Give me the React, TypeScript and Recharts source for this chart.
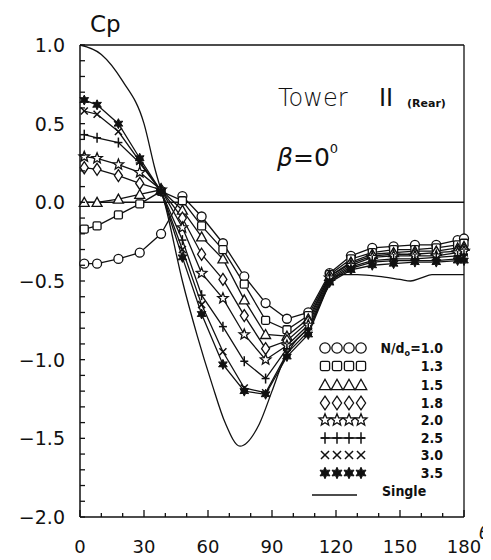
import { LineChart, Line, XAxis, YAxis, ReferenceLine } from 'recharts'

// tap angles (deg) shared by the eight N/d series
const THETA = [2, 8, 18, 28, 38, 48, 57, 67, 77, 87, 97, 107, 117, 127, 137, 147, 157, 167, 177, 180]

const CP_N10 = [-0.39, -0.39, -0.36, -0.32, -0.2, 0.04, -0.09, -0.26, -0.47, -0.64, -0.74, -0.7, -0.45, -0.34, -0.29, -0.28, -0.27, -0.27, -0.24, -0.23]
const CP_N13 = [-0.17, -0.15, -0.08, -0.01, 0.07, 0.01, -0.15, -0.3, -0.52, -0.75, -0.81, -0.72, -0.46, -0.36, -0.32, -0.3, -0.3, -0.29, -0.27, -0.26]
const CP_N15 = [0.0, 0.0, 0.02, 0.05, 0.08, -0.05, -0.22, -0.36, -0.62, -0.84, -0.85, -0.74, -0.47, -0.38, -0.33, -0.32, -0.31, -0.31, -0.29, -0.28]
const CP_N18 = [0.22, 0.21, 0.17, 0.12, 0.08, -0.1, -0.33, -0.49, -0.72, -0.93, -0.88, -0.76, -0.47, -0.39, -0.34, -0.33, -0.33, -0.32, -0.31, -0.3]
const CP_N20 = [0.29, 0.28, 0.24, 0.19, 0.08, -0.16, -0.45, -0.61, -0.84, -1.0, -0.91, -0.78, -0.48, -0.4, -0.35, -0.34, -0.34, -0.34, -0.32, -0.31]
const CP_N25 = [0.43, 0.41, 0.38, 0.25, 0.07, -0.24, -0.59, -0.79, -1.01, -1.12, -0.93, -0.8, -0.49, -0.41, -0.37, -0.36, -0.36, -0.35, -0.34, -0.33]
const CP_N30 = [0.58, 0.56, 0.45, 0.26, 0.07, -0.3, -0.65, -0.95, -1.18, -1.21, -0.96, -0.82, -0.5, -0.42, -0.38, -0.37, -0.37, -0.37, -0.36, -0.35]
const CP_N35 = [0.65, 0.62, 0.5, 0.28, 0.07, -0.35, -0.71, -1.03, -1.2, -1.22, -0.98, -0.84, -0.51, -0.43, -0.4, -0.39, -0.38, -0.38, -0.37, -0.37]

// single tower curve
const SINGLE_THETA = [0, 10, 20, 30, 35, 40, 48, 55, 62, 68, 75, 84, 90, 95, 100, 108, 116, 122, 130, 140, 150, 155, 160, 165, 172, 180]
const SINGLE_CP = [1.0, 0.94, 0.77, 0.5, 0.22, -0.02, -0.5, -0.85, -1.16, -1.4, -1.55, -1.41, -1.2, -1.02, -0.9, -0.78, -0.55, -0.46, -0.46, -0.47, -0.49, -0.5, -0.48, -0.46, -0.46, -0.46]

const SERIES_LABELS = ['1.0', '1.3', '1.5', '1.8', '2.0', '2.5', '3.0', '3.5']
const SERIES_SHAPES = ['circle', 'square', 'triangle', 'diamond', 'star', 'plus', 'cross', 'asterisk']
const SERIES_VALUES = [CP_N10, CP_N13, CP_N15, CP_N18, CP_N20, CP_N25, CP_N30, CP_N35]

const X_LABELS = [0, 30, 60, 90, 120, 150, 180]
const Y_LABELS = [-2.0, -1.5, -1.0, -0.5, 0.0, 0.5, 1.0]

const X_TICKS = Array.from({ length: 19 }, (_, i) => i * 10)
const Y_TICKS = Array.from({ length: 31 }, (_, i) => Math.round(-20 + i) / 10)

const W = 483
const H = 552
const FONT = "'DejaVu Sans', sans-serif"
const COND = "'DejaVu Sans Condensed', 'DejaVu Sans', sans-serif"
const INK = '#111'

type Shape = (typeof SERIES_SHAPES)[number]

function starPoints(cx: number, cy: number, outer: number, inner: number, n: number) {
  const pts: string[] = []
  for (let i = 0; i < n * 2; i++) {
    const r = i % 2 === 0 ? outer : inner
    const a = -Math.PI / 2 + (i * Math.PI) / n
    pts.push(`${cx + r * Math.cos(a)},${cy + r * Math.sin(a)}`)
  }
  return pts.join(' ')
}

function Marker({ shape, cx, cy, s = 1 }: { shape: Shape; cx: number; cy: number; s?: number }) {
  const common = { stroke: INK, strokeWidth: 1.3, fill: '#fff' }
  switch (shape) {
    case 'circle':
      return <circle cx={cx} cy={cy} r={4.5 * s} {...common} />
    case 'square':
      return <rect x={cx - 4 * s} y={cy - 4 * s} width={8 * s} height={8 * s} rx={1.5} {...common} />
    case 'triangle':
      return <polygon points={`${cx},${cy - 5 * s} ${cx - 5 * s},${cy + 4 * s} ${cx + 5 * s},${cy + 4 * s}`} {...common} />
    case 'diamond':
      return <polygon points={`${cx},${cy - 6 * s} ${cx + 4 * s},${cy} ${cx},${cy + 6 * s} ${cx - 4 * s},${cy}`} {...common} />
    case 'star':
      return <polygon points={starPoints(cx, cy, 5.5 * s, 2.4 * s, 5)} {...common} />
    case 'plus':
      return (
        <g stroke={INK} strokeWidth={1.5}>
          <line x1={cx} y1={cy - 5 * s} x2={cx} y2={cy + 5 * s} />
          <line x1={cx - 4 * s} y1={cy} x2={cx + 4 * s} y2={cy} />
        </g>
      )
    case 'cross':
      return (
        <g stroke={INK} strokeWidth={1.5}>
          <line x1={cx - 3.5 * s} y1={cy - 3.5 * s} x2={cx + 3.5 * s} y2={cy + 3.5 * s} />
          <line x1={cx - 3.5 * s} y1={cy + 3.5 * s} x2={cx + 3.5 * s} y2={cy - 3.5 * s} />
        </g>
      )
    default:
      return <polygon points={starPoints(cx, cy, 5 * s, 2.6 * s, 6)} fill={INK} stroke={INK} strokeWidth={1} />
  }
}

function XTick(props: any) {
  const { x, y, payload } = props
  const v = payload.value as number
  const major = X_LABELS.includes(v)
  return (
    <g>
      <line x1={x} y1={y} x2={x} y2={y - (major ? 7 : 4)} stroke={INK} strokeWidth={1.3} />
      {major && (
        <text x={x} y={y + 36} textAnchor="middle" fontSize={18} fontFamily={FONT} fill={INK}>
          {v}
        </text>
      )}
    </g>
  )
}

function YTick(props: any) {
  const { x, y, payload } = props
  const v = payload.value as number
  const major = Y_LABELS.some((l) => Math.abs(l - v) < 1e-6)
  return (
    <g>
      <line x1={x} y1={y} x2={x + 5} y2={y} stroke={INK} strokeWidth={1.3} />
      {major && (
        <text x={x - 15} y={y} dy={7} textAnchor="end" fontSize={19} fontFamily={FONT} fill={INK}>
          {v.toFixed(1).replace('-', '\u2212')}
        </text>
      )}
    </g>
  )
}

function Overlay() {
  // legend rows, page coords minus the 8px body margin
  const rowY = [340, 358, 377, 395, 412, 430, 447, 465]
  const markX = [317, 329, 341, 353]
  return (
    <svg width={W} height={H} style={{ position: 'absolute', left: 0, top: 0, pointerEvents: 'none' }}>
      <text x={82} y={24} fontSize={23} fontFamily={FONT} fill={INK}>
        Cp
      </text>
      <text x={270} y={98} fontSize={24} fontFamily={FONT} fill={INK} fontWeight={300}>
        Tower
      </text>
      <text x={371} y={98} fontSize={24} fontFamily={FONT} fill={INK}>
        II
      </text>
      <text x={399} y={99} fontSize={11} fontFamily={FONT} fontWeight="bold" fill={INK}>
        (Rear)
      </text>
      <text x={269} y={158} fontSize={25} fontFamily={FONT} fill={INK}>
        <tspan fontStyle="italic">β</tspan>=0
        <tspan fontSize={13} dy={-13}>
          0
        </tspan>
      </text>
      <text x={482} y={531} textAnchor="end" fontSize={18} fontStyle="italic" fontFamily={FONT} fill={INK}>
        θ
      </text>
      {SERIES_SHAPES.map((shape, i) => (
        <g key={shape}>
          {shape === 'plus' && <line x1={markX[0] - 4} y1={rowY[i]} x2={markX[3] + 4} y2={rowY[i]} stroke={INK} strokeWidth={1.5} />}
          {markX.map((mx) => (
            <Marker key={mx} shape={shape} cx={mx} cy={rowY[i]} s={1.15} />
          ))}
          <text x={435} y={rowY[i] + 5} textAnchor="end" fontSize={14} fontWeight="bold" fontFamily={COND} fill={INK}>
            {i === 0 ? (
              <>
                N/d<tspan fontSize={9} dy={3}>o</tspan>
                <tspan dy={-3}>={SERIES_LABELS[i]}</tspan>
              </>
            ) : (
              SERIES_LABELS[i]
            )}
          </text>
        </g>
      ))}
      <line x1={304} y1={487} x2={349} y2={487} stroke={INK} strokeWidth={1.5} />
      <text x={374} y={488} fontSize={14} fontWeight="bold" fontFamily={COND} fill={INK}>
        Single
      </text>
    </svg>
  )
}

export default function App() {
  const singleData = SINGLE_THETA.map((theta, i) => ({ theta, cp: SINGLE_CP[i] }))
  const series = SERIES_VALUES.map((vals) => THETA.map((theta, i) => ({ theta, cp: vals[i] })))

  return (
    <div style={{ position: 'relative', width: W, height: H, background: '#fff' }}>
      <LineChart width={W} height={H} margin={{ top: 37, right: 27, bottom: 13, left: 12 }}>
        <XAxis
          type="number"
          dataKey="theta"
          domain={[0, 180]}
          ticks={X_TICKS}
          interval={0}
          tickSize={0}
          tickMargin={0}
          tick={<XTick />}
          height={30}
          axisLine={{ stroke: INK, strokeWidth: 1.5 }}
          allowDuplicatedCategory={false}
        />
        <YAxis
          type="number"
          domain={[-2, 1]}
          ticks={Y_TICKS}
          interval={0}
          tickSize={0}
          tickMargin={0}
          tick={<YTick />}
          width={60}
          axisLine={{ stroke: INK, strokeWidth: 1.5 }}
        />
        <ReferenceLine y={0} stroke={INK} strokeWidth={1.5} />
        <ReferenceLine y={1} stroke={INK} strokeWidth={1.3} />
        <ReferenceLine x={180} stroke={INK} strokeWidth={1.3} />
        <Line
          data={singleData}
          dataKey="cp"
          type="monotone"
          stroke={INK}
          strokeWidth={1.3}
          dot={false}
          isAnimationActive={false}
        />
        {series.map((data, si) => (
          <Line
            key={SERIES_LABELS[si]}
            data={data}
            dataKey="cp"
            type="linear"
            stroke={INK}
            strokeWidth={1.3}
            isAnimationActive={false}
            dot={(p: any) => <Marker key={`${si}-${p.index}`} shape={SERIES_SHAPES[si]} cx={p.cx} cy={p.cy} />}
          />
        ))}
      </LineChart>
      <Overlay />
    </div>
  )
}
